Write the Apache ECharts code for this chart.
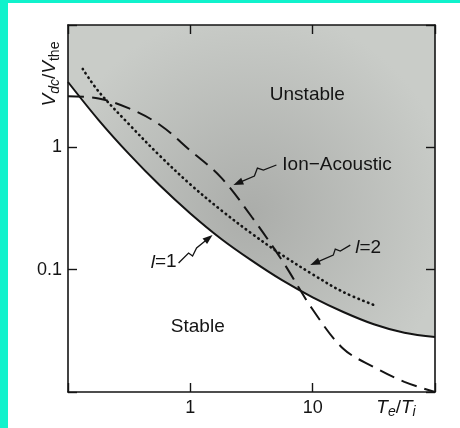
<!DOCTYPE html>
<html>
<head>
<meta charset="utf-8">
<script src="https://cdn.jsdelivr.net/npm/echarts@6/dist/echarts.min.js"></script>
<style>
html, body { margin: 0; padding: 0; background: #fff; }
#main { width: 460px; height: 428px; }
</style>
</head>
<body>
<div id="main"></div>
<script>
// axis labels that are printed (others are blank)
var xTickLabels = [1, 10];
var yTickLabels = [1, 0.1];

// l=1 stability boundary (solid)
var l1X = [0.1, 0.178, 0.316, 0.562, 1, 1.78, 3.16, 5.62, 10, 17.8, 31.6, 56.2, 100];
var l1Y = [3.42, 1.67, 0.879, 0.489, 0.288, 0.179, 0.119, 0.082, 0.0594, 0.0451, 0.0358, 0.0305, 0.0282];

// l=2 (dotted)
var l2X = [0.132, 0.178, 0.316, 0.562, 1, 1.78, 3.16, 5.62, 10, 17.8, 31.6];
var l2Y = [4.37, 2.86, 1.54, 0.855, 0.498, 0.307, 0.198, 0.132, 0.0916, 0.0656, 0.0515];

// ion-acoustic (dashed)
var iaX = [0.1, 0.178, 0.316, 0.562, 1, 1.78, 3.16, 5.62, 10, 17.8, 31.6, 56.2, 100];
var iaY = [2.62, 2.51, 2.08, 1.53, 0.942, 0.568, 0.272, 0.119, 0.0472, 0.0226, 0.016, 0.0121, 0.0100];

var FONT = '"Liberation Sans", Arial, sans-serif';
var INK = '#141414';

function zip(xs, ys) {
	var out = [];
	for (var i = 0; i < xs.length; i++) out.push([xs[i], ys[i]]);
	return out;
}
function tickFmt(shown) {
	return function (v) {
		for (var i = 0; i < shown.length; i++) {
			if (Math.abs(v - shown[i]) < shown[i] * 1e-6) return String(shown[i]);
		}
		return '';
	};
}
function logAxis(pos, labels, isX) {
	return {
		type: 'log',
		logBase: 10,
		min: isX ? 0.1 : 0.01,
		max: isX ? 100 : 10,
		position: pos,
		axisLine: { show: true, onZero: false, lineStyle: { color: INK, width: 1.6 } },
		axisTick: { show: true, inside: true, length: 9, lineStyle: { color: INK, width: 1.4 } },
		axisLabel: {
			show: !!labels,
			formatter: labels ? tickFmt(labels) : '',
			fontSize: 18,
			fontFamily: FONT,
			color: INK,
			margin: isX ? 7 : 6
		},
		splitLine: { show: false },
		minorTick: { show: false },
		z: 10
	};
}

var chart = echarts.init(document.getElementById('main'));
var option = {
	animation: false,
	backgroundColor: '#fff',
	grid: { left: 68, right: 25, top: 25, bottom: 36 },
	xAxis: [logAxis('bottom', xTickLabels, true), logAxis('top', null, true)],
	yAxis: [logAxis('left', yTickLabels, false), logAxis('right', null, false)],
	series: [
		{
			name: 'l=1',
			type: 'line',
			data: zip(l1X, l1Y),
			smooth: 0.35,
			symbol: 'none',
			lineStyle: { color: INK, width: 2 },
			areaStyle: {
				origin: 'end',
				opacity: 1,
				color: new echarts.graphic.RadialGradient(0.5, 0.6, 0.65, [
					{ offset: 0, color: '#abadaa' },
					{ offset: 1, color: '#c9ccc8' }
				])
			},
			z: 2
		},
		{
			name: 'Ion-Acoustic',
			type: 'line',
			data: zip(iaX, iaY),
			smooth: 0.35,
			symbol: 'none',
			lineStyle: { color: INK, width: 2, type: [16, 8] },
			z: 3
		},
		{
			name: 'l=2',
			type: 'line',
			data: zip(l2X, l2Y),
			smooth: 0.35,
			symbol: 'none',
			lineStyle: { color: INK, width: 2.6, type: [0.5, 4.6], cap: 'round' },
			z: 4
		}
	]
};
chart.setOption(option);

// annotations, anchored in data space
function px(x, y) {
	return chart.convertToPixel({ xAxisIndex: 0, yAxisIndex: 0 }, [x, y]);
}
function arrow(tip, offs) {
	var t = px(tip[0], tip[1]);
	var pts = offs.map(function (o) { return [t[0] + o[0], t[1] + o[1]]; });
	var p = pts[pts.length - 1];
	var dx = t[0] - p[0], dy = t[1] - p[1], len = Math.sqrt(dx * dx + dy * dy);
	var ux = dx / len, uy = dy / len, hl = 10, hw = 3.6;
	var bx = t[0] - ux * hl, by = t[1] - uy * hl;
	pts.push([bx + ux * 2, by + uy * 2]);
	return [
		{ type: 'polyline', z: 100, shape: { points: pts }, style: { stroke: INK, lineWidth: 1.3, fill: null } },
		{ type: 'polygon', z: 100, shape: { points: [t, [bx - uy * hw, by + ux * hw], [bx + uy * hw, by - ux * hw]] }, style: { fill: INK } }
	];
}
function label(pos, text, size, rich) {
	var p = px(pos[0], pos[1]);
	return {
		type: 'text', z: 100, x: p[0], y: p[1],
		style: { text: text, fontSize: size, fontFamily: FONT, fill: INK, align: 'center', verticalAlign: 'middle', rich: rich }
	};
}
var italicRich = {
	i: { fontSize: 19, fontFamily: FONT, fontStyle: 'italic', fill: INK },
	r: { fontSize: 19, fontFamily: FONT, fill: INK }
};

var g = [
	{ type: 'rect', z: 100, shape: { x: 0, y: 0, width: 8, height: 428 }, style: { fill: '#10f2cc' } },
	{ type: 'rect', z: 100, shape: { x: 0, y: 0, width: 460, height: 3 }, style: { fill: '#10f2cc' } },
	label([9.04, 2.67], 'Unstable', 19),
	label([15.8, 0.715], 'Ion\u2212Acoustic', 19),
	label([1.15, 0.034], 'Stable', 19),
	label([0.605, 0.115], '{i|l}{r|=1}', 19, italicRich),
	label([28.4, 0.150], '{i|l}{r|=2}', 19, italicRich),
	{
		type: 'text', z: 100, x: 50, y: 74, rotation: Math.PI / 2,
		style: {
			text: '{v|V}{s|dc}{n|/}{v|V}{t|the}',
			align: 'center', verticalAlign: 'middle',
			rich: {
				v: { fontSize: 19, fontStyle: 'italic', fontFamily: FONT, fill: INK, lineHeight: 24 },
				n: { fontSize: 19, fontFamily: FONT, fill: INK, lineHeight: 24 },
				s: { fontSize: 14, fontStyle: 'italic', fontFamily: FONT, fill: INK, lineHeight: 13, verticalAlign: 'bottom' },
				t: { fontSize: 14, fontFamily: FONT, fill: INK, lineHeight: 13, verticalAlign: 'bottom' }
			}
		}
	},
	{
		type: 'text', z: 100, x: 396, y: 408,
		style: {
			text: '{v|T}{s|e}{n|/}{v|T}{s|i}',
			align: 'center', verticalAlign: 'middle',
			rich: {
				v: { fontSize: 19, fontStyle: 'italic', fontFamily: FONT, fill: INK, lineHeight: 22 },
				n: { fontSize: 19, fontFamily: FONT, fill: INK, lineHeight: 22 },
				s: { fontSize: 14, fontStyle: 'italic', fontFamily: FONT, fill: INK, lineHeight: 12, verticalAlign: 'bottom' }
			}
		}
	}
];
g = g.concat(arrow([2.25, 0.492], [[43, -20], [30, -15], [24, -17], [21, -9]]));
g = g.concat(arrow([1.52, 0.192], [[-34, 28], [-24, 18], [-20, 21], [-16, 13]]));
g = g.concat(arrow([9.56, 0.109], [[40, -20], [30, -14], [25, -16], [23, -10]]));

chart.setOption({ graphic: g });
</script>
</body>
</html>
